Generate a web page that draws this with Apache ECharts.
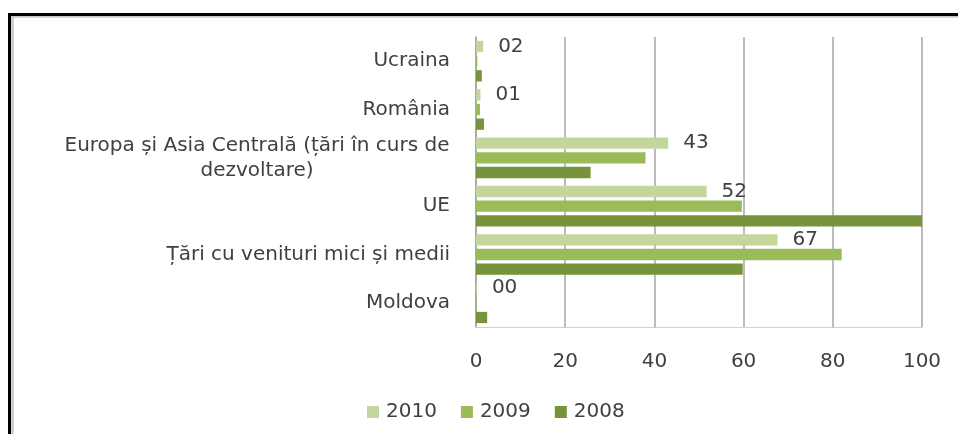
<!DOCTYPE html>
<html><head><meta charset="utf-8">
<script src="https://cdn.jsdelivr.net/npm/echarts@6/dist/echarts.min.js"></script>
<style>html,body{margin:0;padding:0;background:#fff}#c{width:958px;height:434px}</style>
</head><body><div id="c"></div>
<script>
const categories = ['Moldova', 'Țări cu venituri mici și medii', 'UE', 'Europa și Asia Centrală (țări în curs de dezvoltare)', 'România', 'Ucraina'];
const categoryLines = { 'Europa și Asia Centrală (țări în curs de dezvoltare)': ['Europa și Asia Centrală (țări în curs de', 'dezvoltare)'] };
const years = ['2010', '2009', '2008'];
const values2010 = [0.2, 67.6, 51.7, 43.1, 1.0, 1.6];
const values2009 = [0.1, 82.0, 59.6, 38.0, 0.9, 0.3];
const values2008 = [2.5, 59.8, 100, 25.7, 1.8, 1.3];
const labels2010 = ['00', '67', '52', '43', '01', '02'];
const xTicks = [0, 20, 40, 60, 80, 100];

const font = 'DejaVu Sans';
const fs = 20;
const txt = '#404040';
const chart = echarts.init(document.getElementById('c'));
chart.setOption({
  animation: false,
  textStyle: { fontFamily: font },
  grid: { left: 476, right: 36, top: 37, bottom: 107, containLabel: false },
  legend: {
    data: years, top: 397, left: 362, itemWidth: 12, itemHeight: 12, itemGap: 24,
    icon: 'rect', textStyle: { fontFamily: font, fontSize: fs, color: txt, padding: [0, 0, 0, 2] }
  },
  xAxis: {
    type: 'value', min: xTicks[0], max: xTicks[xTicks.length - 1], interval: 20,
    axisLine: { show: true, lineStyle: { color: '#d0d0d0', width: 1 } },
    axisTick: { show: false },
    axisLabel: { fontFamily: font, fontSize: fs, color: txt, margin: 25 },
    splitLine: { show: true, lineStyle: { color: '#a6a6a6', width: 1.5 } }
  },
  yAxis: {
    type: 'category', data: categories,
    axisLine: { show: true, lineStyle: { color: '#a6a6a6', width: 1.5 } },
    axisTick: { show: false },
    axisLabel: {
      fontFamily: font, fontSize: 20, color: txt, margin: 26, align: 'right', lineHeight: 25,
      formatter: v => categoryLines[v] ? categoryLines[v].map(l => '{c|' + l + '}').join('\n') : v,
      rich: { c: { fontFamily: font, fontSize: 20, color: txt, lineHeight: 25, width: 386, align: 'center' } }
    }
  },
  series: [
    { name: '2010', type: 'bar', data: values2010, itemStyle: { color: '#c3d69b' },
      barGap: '30%', barCategoryGap: '16%',
      label: { show: true, position: 'right', distance: 15, fontFamily: font, fontSize: fs, color: txt,
        formatter: p => labels2010[p.dataIndex] } },
    { name: '2009', type: 'bar', data: values2009, itemStyle: { color: '#9bbb59' }, barGap: '30%', barCategoryGap: '16%' },
    { name: '2008', type: 'bar', data: values2008, itemStyle: { color: '#77933c' }, barGap: '30%', barCategoryGap: '16%' }
  ],
  graphic: [
    { type: 'polyline', shape: { points: [[12.5, 434], [12.5, 16.5], [958, 16.5]] }, style: { stroke: '#c8c8c8', lineWidth: 2.5, fill: null }, silent: true },
    { type: 'polyline', shape: { points: [[9.5, 434], [9.5, 14.5], [958, 14.5]] }, style: { stroke: '#000', lineWidth: 3, fill: null }, silent: true }
  ]
});
</script></body></html>
